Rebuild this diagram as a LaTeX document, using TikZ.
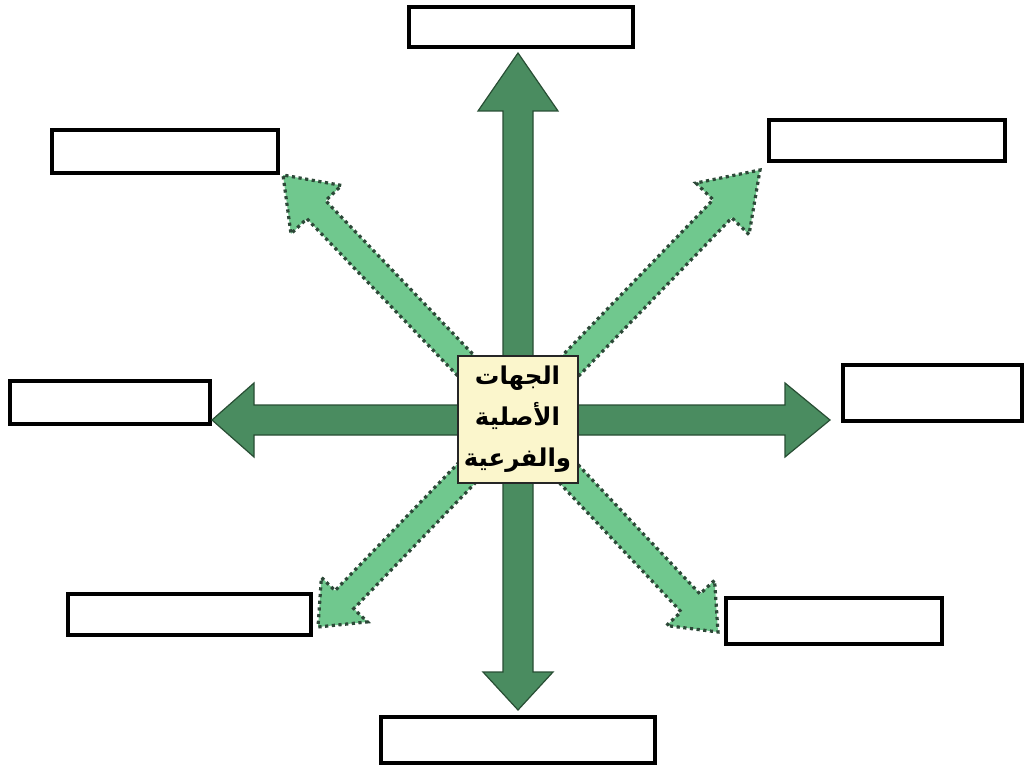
\documentclass[tikz,border=0pt]{standalone}
\usepackage{fontspec}
\usetikzlibrary{calc}
\TeXXeTstate=1
\newfontfamily\arabicfont[Script=Arabic]{DejaVu Sans}
\definecolor{darkarrow}{RGB}{74,140,96}
\definecolor{darkedge}{RGB}{40,78,52}
\definecolor{lightarrow}{RGB}{112,200,142}
\definecolor{dotedge}{RGB}{45,72,56}
\definecolor{cream}{RGB}{251,246,204}
\newcommand\fatarrow[6]{%
  \coordinate (fa-b) at ($(#3)!#6!(#2)$);
  \path[#1] ($(#2)!#4!90:(#3)$) -- ($(fa-b)!#4!-90:(#2)$) -- ($(fa-b)!#5!-90:(#2)$)
    -- (#3) -- ($(fa-b)!#5!90:(#2)$) -- ($(fa-b)!#4!90:(#2)$) -- ($(#2)!#4!-90:(#3)$) -- cycle;
}
\tikzset{
  labelbox/.style={draw=black, line width=3.5pt, fill=white},
  mainarrow/.style={fill=darkarrow, draw=darkedge, line width=1.2pt, line join=miter},
  subarrow/.style={fill=lightarrow, draw=dotedge, line width=3.2pt, dash pattern=on 3.2pt off 3.5pt},
  centerbox/.style={draw=black!85, line width=2pt, fill=cream, minimum width=120pt, minimum height=126pt, align=center, inner sep=2pt,
    font={\arabicfont\bfseries\fontsize{24.5}{41}\selectfont}}
}
\begin{document}
\begin{tikzpicture}[x=1pt,y=1pt]
\useasboundingbox (0,0) rectangle (1024,769);
% label boxes (image px, y flipped)
\draw[labelbox] (409,722) rectangle (633,762);
\draw[labelbox] (52,596) rectangle (278,639);
\draw[labelbox] (769,608) rectangle (1005,649);
\draw[labelbox] (10,345) rectangle (210,388);
\draw[labelbox] (843,348) rectangle (1022,404);
\draw[labelbox] (68,134) rectangle (311,175);
\draw[labelbox] (726,125) rectangle (942,171);
\draw[labelbox] (381,6) rectangle (655,52);
% coordinates
\coordinate (c) at (518,349);
\coordinate (tU) at (518,716);
\coordinate (tD) at (518,59);
\coordinate (tL) at (212,349);
\coordinate (tR) at (830,349);
\coordinate (tTL) at (283,594);
\coordinate (tTR) at (760,599);
\coordinate (tBL) at (318,142);
\coordinate (tBR) at (718,137);
% diagonal arrows
\fatarrow{subarrow}{c}{tTL}{13pt}{35pt}{48pt}
\fatarrow{subarrow}{c}{tTR}{13pt}{37pt}{54pt}
\fatarrow{subarrow}{c}{tBL}{13pt}{32pt}{38pt}
\fatarrow{subarrow}{c}{tBR}{13pt}{33pt}{40pt}
% main arrows
\fatarrow{mainarrow}{c}{tU}{15pt}{40pt}{58pt}
\fatarrow{mainarrow}{c}{tD}{15pt}{35pt}{38pt}
\fatarrow{mainarrow}{c}{tL}{15pt}{37pt}{42pt}
\fatarrow{mainarrow}{c}{tR}{15pt}{37pt}{45pt}
% center
\node[centerbox] (center) at (517.5,349.5) {\beginR الجهات\endR\\ \beginR الأصلية\endR\\ \beginR والفرعية\endR};
\end{tikzpicture}
\end{document}
